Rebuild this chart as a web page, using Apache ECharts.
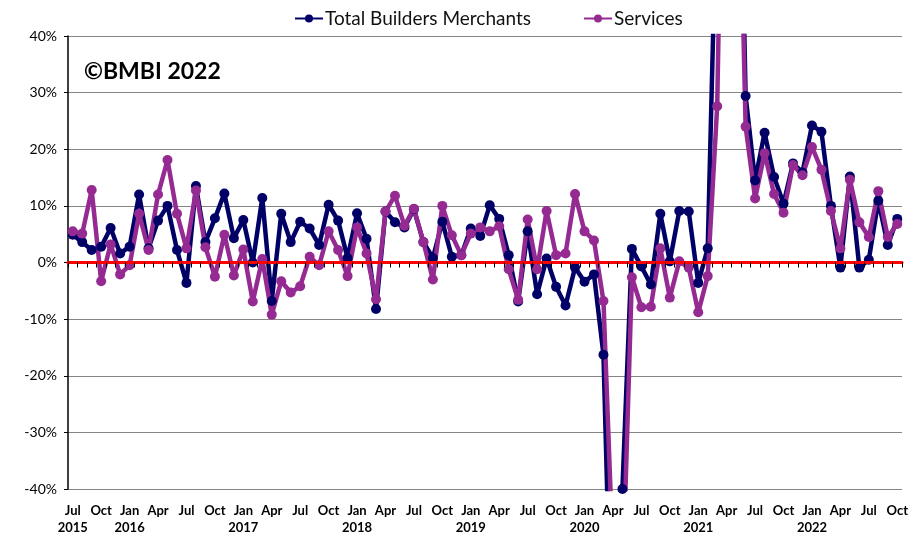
<!DOCTYPE html>
<html>
<head>
<meta charset="utf-8">
<title>BMBI</title>
<script src="https://cdn.jsdelivr.net/npm/echarts@6/dist/echarts.min.js"></script>
<style>
  html, body { margin: 0; padding: 0; background: #fff; }
  #chart { width: 918px; height: 536px; }
</style>
</head>
<body>
<div id="chart"></div>
<script>
// monthly categories, Jul 2015 .. Oct 2022
var monthNames = ['Jan', 'Feb', 'Mar', 'Apr', 'May', 'Jun', 'Jul', 'Aug', 'Sep', 'Oct', 'Nov', 'Dec']
var startYear = 2015
var startMonth = 6 // Jul
var monthCount = 88

var months = []
for (var k = 0; k < monthCount; k++) {
  var m = (startMonth + k) % 12
  var y = startYear + Math.floor((startMonth + k) / 12)
  months.push(monthNames[m] + ' ' + y)
}

// year-on-year change, % (values beyond +/-40 run off the chart)
var buildersMerchants = [
  4.9, 3.6, 2.2, 2.8, 6.1, 1.6,
  2.8, 12.0, 2.5, 7.4, 10.0, 2.2, -3.6, 13.5, 3.6, 7.8, 12.2, 4.3,
  7.5, 0.0, 11.4, -6.8, 8.6, 3.6, 7.2, 6.0, 3.1, 10.2, 7.4, 0.8,
  8.7, 4.2, -8.2, 9.0, 7.1, 6.2, 9.4, 3.6, 0.8, 7.2, 1.0, 1.3,
  6.0, 4.7, 10.1, 7.7, 1.3, -6.9, 5.5, -5.6, 0.7, -4.3, -7.6, -0.9,
  -3.4, -2.1, -16.3, -78, -40, 2.4, -0.7, -3.9, 8.6, 0.2, 9.1, 9.0,
  -3.6, 2.5, 69, 150, 110, 29.4, 14.5, 22.9, 15.1, 10.4, 17.5, 15.9,
  24.2, 23.1, 10.0, -0.9, 15.2, -0.9, 0.5, 10.9, 3.1, 7.7
]

var services = [
  5.5, 5.1, 12.8, -3.3, 3.2, -2.1,
  -0.5, 8.6, 2.2, 12.0, 18.1, 8.6, 2.5, 12.7, 2.7, -2.5, 4.9, -2.3,
  2.3, -6.9, 0.6, -9.2, -3.3, -5.3, -4.2, 1.0, -0.5, 5.5, 2.2, -2.4,
  6.2, 1.6, -6.5, 9.0, 11.8, 6.5, 9.5, 3.6, -3.0, 10.0, 4.8, 1.3,
  5.1, 6.2, 5.5, 6.4, -1.2, -6.6, 7.6, -1.2, 9.1, 1.3, 1.6, 12.1,
  5.5, 3.9, -6.8, -52, -58, -2.6, -7.9, -7.8, 2.5, -6.2, 0.2, -0.9,
  -8.8, -2.4, 27.6, 120, 95, 24.0, 11.3, 19.3, 12.1, 8.8, 17.2, 15.4,
  20.4, 16.4, 9.1, 2.5, 14.6, 7.1, 4.5, 12.6, 4.5, 6.8
]

var yTicks = [-40, -30, -20, -10, 0, 10, 20, 30, 40]

var navy = '#000066'
var purple = '#952A92'
var chart = echarts.init(document.getElementById('chart'))

function tickLabel(value, index) {
  var parts = value.split(' ')
  if (index === 0 || parts[0] === 'Jan') {
    return parts[0] + '\n' + parts[1]
  }
  return parts[0]
}

chart.setOption({
  animation: false,
  textStyle: { fontFamily: 'Lato, "Liberation Sans", sans-serif' },
  legend: {
    top: 4,
    left: 289,
    itemWidth: 28,
    itemHeight: 10,
    itemGap: 52,
    textStyle: { fontSize: 19, color: '#111', padding: [0, 0, 0, -3] },
    data: ['Total Builders Merchants', 'Services']
  },
  grid: { left: 68, right: 16, top: 36, bottom: 45 },
  graphic: [{
    type: 'text',
    left: 84,
    top: 60,
    style: {
      text: '©BMBI 2022',
      font: 'bold 23px Lato, "Liberation Sans", sans-serif',
      fill: '#000'
    }
  }],
  xAxis: [{
    type: 'category',
    data: months,
    boundaryGap: true,
    position: 'bottom',
    axisLine: { onZero: false, show: false },
    axisTick: { show: false },
    axisLabel: {
      interval: function (index) { return index % 3 === 0 },
      formatter: tickLabel,
      fontWeight: 'bold',
      fontSize: 13,
      lineHeight: 17,
      color: '#000',
      margin: 13
    },
    splitLine: { show: false }
  }, {
    // zero line with minor ticks
    type: 'category',
    data: months,
    boundaryGap: true,
    position: 'bottom',
    z: 10,
    axisLine: { onZero: true, lineStyle: { color: '#ff0000', width: 3 } },
    axisTick: { show: true, interval: 0, length: 5, lineStyle: { color: '#000', width: 1 } },
    axisLabel: { show: false },
    splitLine: { show: false }
  }],
  yAxis: {
    type: 'value',
    min: yTicks[0],
    max: yTicks[yTicks.length - 1],
    interval: 10,
    axisLine: { show: true, lineStyle: { color: '#000', width: 1.5 } },
    axisTick: { show: true, length: 4, lineStyle: { color: '#000' } },
    axisLabel: {
      formatter: '{value}%',
      fontSize: 14,
      color: '#000',
      margin: 11
    },
    splitLine: { lineStyle: { color: '#858585', width: 1 } }
  },
  series: [{
    name: 'Total Builders Merchants',
    type: 'line',
    data: buildersMerchants,
    color: navy,
    symbol: 'circle',
    symbolSize: 10,
    showAllSymbol: true,
    lineStyle: { width: 4.5, color: navy },
    itemStyle: { color: navy },
    clip: true
  }, {
    name: 'Services',
    type: 'line',
    data: services,
    color: purple,
    symbol: 'circle',
    symbolSize: 10,
    showAllSymbol: true,
    lineStyle: { width: 4.5, color: purple },
    itemStyle: { color: purple },
    clip: true
  }]
})
</script>
</body>
</html>
